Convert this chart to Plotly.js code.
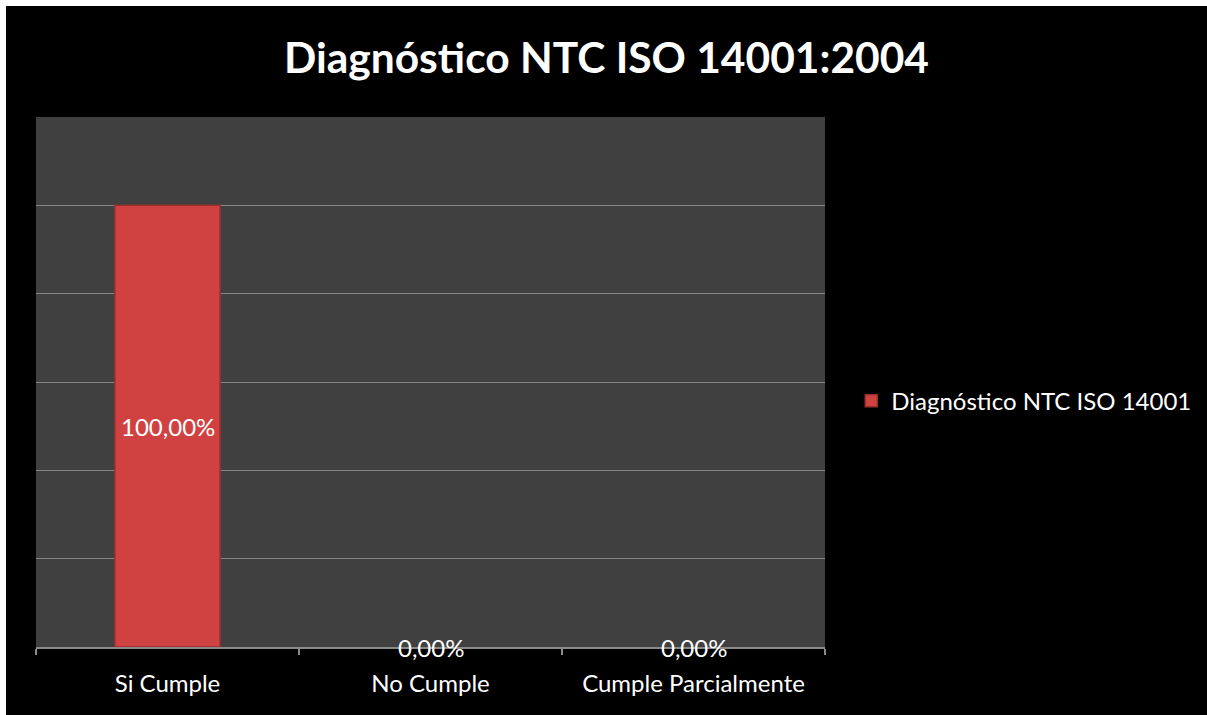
<!DOCTYPE html>
<html>
<head>
<meta charset="utf-8">
<script src="https://cdn.plot.ly/plotly-3.0.1.min.js"></script>
<style>
html,body{margin:0;padding:0;background:#ffffff;width:1207px;height:715px;overflow:hidden;}
#chart{position:absolute;left:6px;top:6px;width:1201px;height:709px;}
</style>
</head>
<body>
<div id="chart"></div>
<script>
const categories = ["Si Cumple", "No Cumple", "Cumple Parcialmente"];
const values = [1.0, 0.0, 0.0];
const seriesName = "Diagnóstico NTC ISO 14001";
const chartTitle = "Diagnóstico NTC ISO 14001:2004";

function fmtPct(v){ return (v*100).toFixed(2).replace(".", ",") + "%"; }

const FONT = "Lato, 'Open Sans', sans-serif";

const trace = {
  type: "bar",
  x: categories,
  y: values,
  name: seriesName,
  width: 0.4,
  marker: {color: "#d04242", line: {color: "#9a2e2e", width: values.map(v => v > 0 ? 1.5 : 0)}},
  hoverinfo: "none",
  showlegend: true
};

const annotations = categories.map((c, i) => ({
  x: c, y: values[i] / 2, xref: "x", yref: "y",
  text: fmtPct(values[i]), showarrow: false,
  xanchor: "center", yanchor: "middle",
  font: {family: FONT, size: 24, color: "#ffffff"}
}));

const layout = {
  width: 1201, height: 709,
  paper_bgcolor: "#000000",
  plot_bgcolor: "#404040",
  margin: {l: 30, r: 381, t: 111, b: 68},
  title: {text: "<b>" + chartTitle + "</b>", x: 0.5, xanchor: "center", y: 0.926, yanchor: "middle",
          font: {family: FONT, size: 42.5, color: "#ffffff"}},
  xaxis: {
    type: "category",
    showline: true, linecolor: "#8a8a8a", linewidth: 1.5,
    ticks: "outside", tickson: "boundaries", ticklen: 6, tickcolor: "#8a8a8a", tickwidth: 1.5,
    ticklabelstandoff: 15,
    showgrid: false,
    tickfont: {family: FONT, size: 24, color: "#ffffff"},
    fixedrange: true
  },
  yaxis: {
    range: [0, 1.2], dtick: 0.2, tick0: 0,
    showticklabels: false, ticks: "",
    showgrid: true, gridcolor: "#858585", gridwidth: 1,
    zeroline: false, showline: false,
    fixedrange: true
  },
  legend: {
    x: 1.032, xanchor: "left", y: 0.464, yanchor: "middle",
    font: {family: FONT, size: 24, color: "#ffffff"},
    bgcolor: "rgba(0,0,0,0)", itemwidth: 30
  },
  annotations: annotations,
  showlegend: true
};

Plotly.newPlot("chart", [trace], layout, {staticPlot: true});
</script>
</body>
</html>
